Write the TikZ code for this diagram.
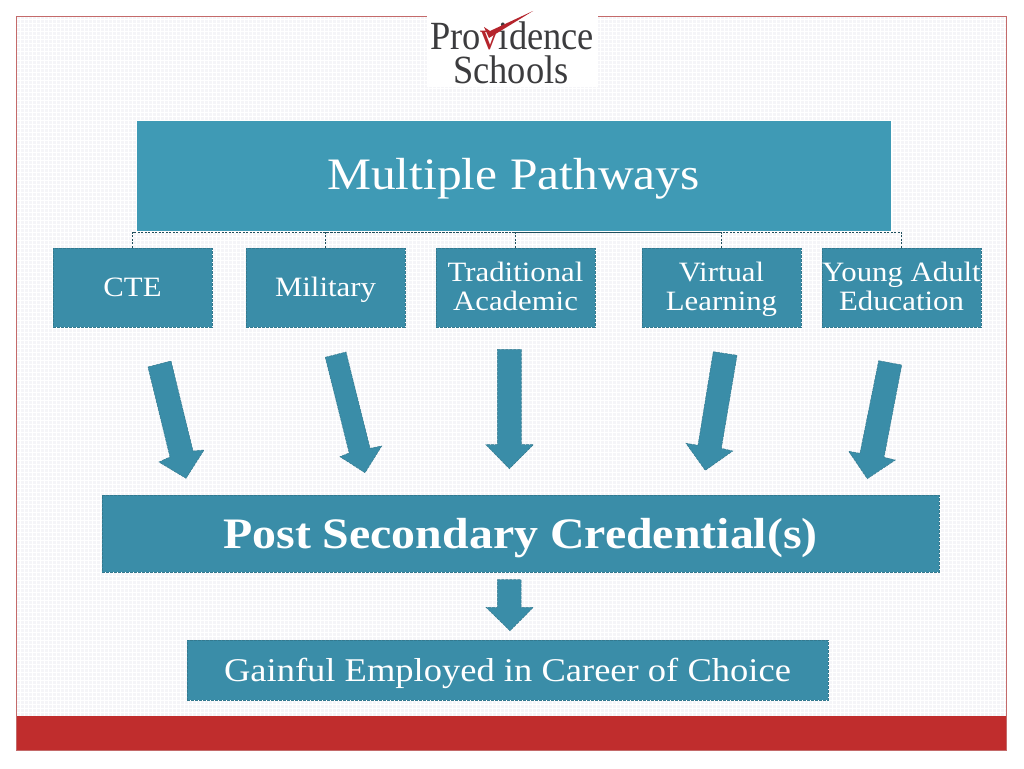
\documentclass[tikz,border=0pt]{standalone}
\usepackage{fontspec}
\setmainfont[FakeStretch=1.1]{Liberation Serif}
\newfontfamily\logofont[FakeStretch=0.91]{Liberation Serif}
\definecolor{teal1}{HTML}{3A8DA8}
\definecolor{teal2}{HTML}{3F9AB5}
\definecolor{tealedge}{HTML}{33798F}
\definecolor{framered}{HTML}{C46A6A}
\definecolor{barred}{HTML}{C02D2D}
\definecolor{bgpaper}{HTML}{F5F5F8}
\definecolor{logogrey}{HTML}{3C3C3E}
\definecolor{checkred}{HTML}{B5242C}
\newcommand{\upstrut}{\rule{0pt}{26.3pt}}
\tikzset{
  x=1pt,y=-1pt,
  box/.style={fill=teal1,draw=tealedge,dashed,dash pattern=on 3pt off 1pt,line width=0.7pt,text=white,inner sep=0pt,align=center,anchor=center},
  kid/.style={box,minimum width=159pt,minimum height=79pt,font=\fontsize{28}{29}\selectfont},
  kidone/.style={kid,text height=17pt,text depth=0pt},
  mainbox/.style={fill=teal2,draw=white,solid,line width=1pt,text=white,inner sep=0pt,anchor=center,minimum width=755pt,minimum height=111pt,text height=28pt,text depth=0pt,font=\fontsize{45}{50}\selectfont},
  arrowshape/.style={fill=teal1,draw=tealedge,dashed,dash pattern=on 3pt off 1pt,line width=0.5pt,line join=miter},
  link/.style={draw=black!35!tealedge,dashed,dash pattern=on 2pt off 1.5pt,line width=0.7pt},
  logotext/.style={inner sep=0pt,text=logogrey,anchor=base,text depth=0pt,text height=26pt}
}
\begin{document}
\begin{tikzpicture}
\useasboundingbox (0,0) rectangle (1024,768);
\fill[white] (0,0) rectangle (1024,768);
\fill[bgpaper] (16,17) rectangle (1006,750);
\draw[white,line width=1pt,step=4pt] (16,17) grid (1006,716);
\fill[barred] (16,716) rectangle (1006,750);
\draw[framered,line width=1pt] (16,17) rectangle (1006,750);
% logo
\fill[white] (427,14) rectangle (598,87);
\node[logotext,font=\logofont\fontsize{40}{40}\selectfont] (prov) at (512,49) {Pro\textcolor{checkred}{v}idence};
\node[logotext,font=\logofont\fontsize{40}{40}\selectfont] (schools) at (511,83) {Schools};
\fill[checkred] (484,27) -- (489,38) -- (533,11) -- (490,31) -- cycle;
% boxes
\node[mainbox] (main) at (513.5,175.5) {Multiple Pathways};
\node[kidone] (cte) at (132.5,287.5) {CTE};
\node[kidone] (mil) at (325.5,287.5) {Military};
\node[kid] (trad) at (515.5,287.5) {\upstrut Traditional\strut\\Academic\strut};
\node[kid] (virt) at (721.5,287.5) {\upstrut Virtual\strut\\Learning\strut};
\node[kid] (young) at (901.5,287.5) {\upstrut Young Adult\strut\\Education\strut};
\node[box,minimum width=837pt,minimum height=77pt,text height=29pt,text depth=0pt,font=\fontsize{43.5}{46}\selectfont\bfseries] (post) at (520.5,533.5) {Post Secondary Credential(s)};
\node[box,minimum width=641pt,minimum height=60pt,text height=22pt,text depth=0pt,font=\fontsize{33.2}{36}\selectfont] (gain) at (507.5,670) {Gainful Employed in Career of Choice};
% connectors
\coordinate (trunk) at (513.5,232);
\foreach \k in {cte,mil,trad,virt,young}{
  \draw[link] (\k.north) |- (trunk);
}
% arrows
\draw[arrowshape] (148,367) -- (171,361) -- (193,451) -- (204,450) -- (186,478.3) -- (159,462) -- (170,457) -- cycle;
\draw[arrowshape] (325.3,357.3) -- (346,352) -- (370,448.3) -- (381.7,446) -- (365,472.7) -- (340,456.7) -- (349.2,453) -- cycle;
\draw[arrowshape] (497.3,349.3) -- (521.3,349.3) -- (521.3,444.7) -- (533.3,444.7) -- (509.3,468.7) -- (486,444.7) -- (497.3,444.7) -- cycle;
\draw[arrowshape] (713.3,351.7) -- (737,355.3) -- (721.3,448.3) -- (732.7,451) -- (705.3,470.3) -- (686,443.3) -- (698,445.3) -- cycle;
\draw[arrowshape] (878.7,360.7) -- (901.7,365) -- (884,457.3) -- (895.3,460) -- (867.3,478.7) -- (848.7,451.3) -- (860,453.3) -- cycle;
\draw[arrowshape] (497.3,579.7) -- (521,579.7) -- (521,607.3) -- (533.3,607.3) -- (510,630.7) -- (486,607.3) -- (497.3,607.3) -- cycle;
\end{tikzpicture}
\end{document}
